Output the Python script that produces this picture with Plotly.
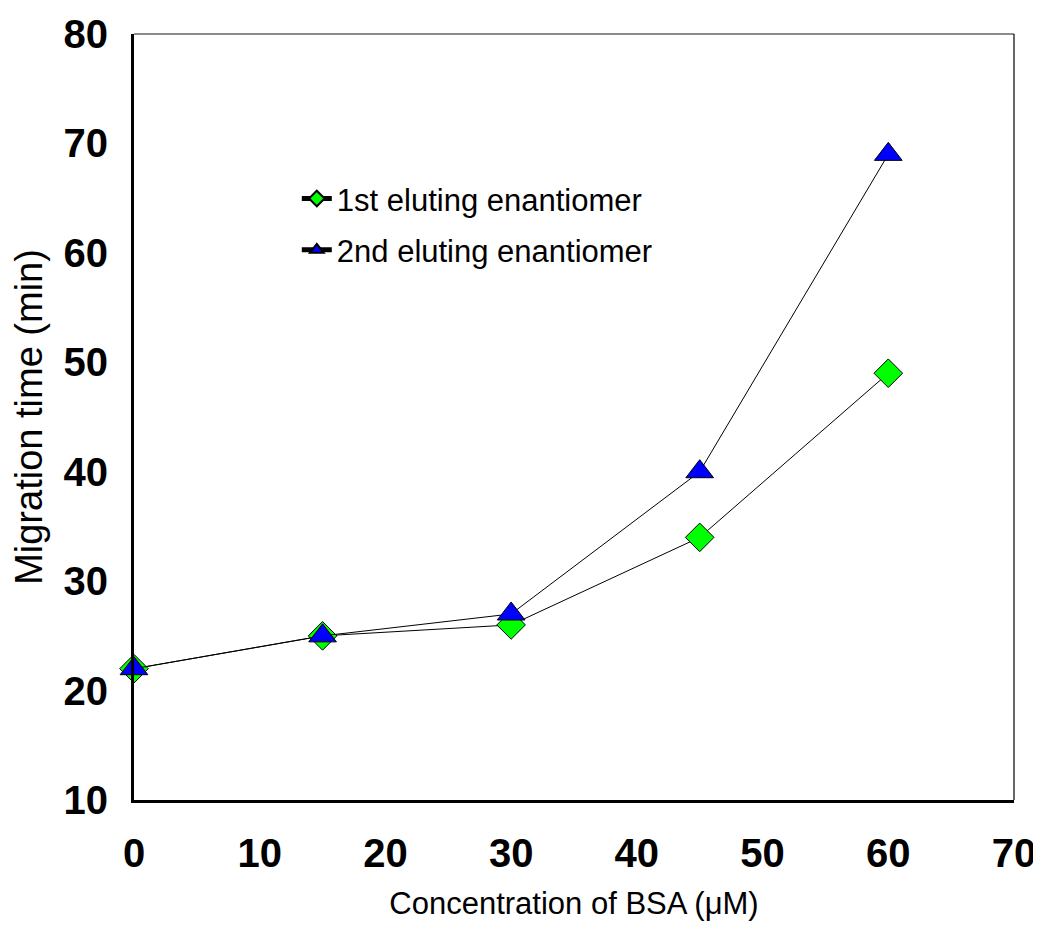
import plotly.graph_objects as go

conc = [0, 15, 30, 45, 60]
first_eluting = [22, 25, 26, 34, 49]
second_eluting = [22, 25, 27, 40, 69]

x_ticks = [0, 10, 20, 30, 40, 50, 60, 70]
y_ticks = [10, 20, 30, 40, 50, 60, 70, 80]

fig = go.Figure()
fig.add_trace(go.Scatter(
    x=conc, y=first_eluting, mode="lines+markers", name="1st eluting enantiomer",
    legendgroup="a",
    line=dict(color="black", width=1),
    marker=dict(symbol="diamond", size=22, color="#00FF00", line=dict(color="black", width=1)),
    cliponaxis=False,
))
fig.add_trace(go.Scatter(
    x=conc, y=second_eluting, mode="lines+markers", name="2nd eluting enantiomer",
    legendgroup="b",
    line=dict(color="black", width=1),
    marker=dict(symbol="triangle-up", size=24, color="#0000FF", line=dict(color="black", width=1)),
    cliponaxis=False,
))

fig.update_layout(
    width=1033, height=943,
    margin=dict(l=126, r=27, t=26, b=151),
    plot_bgcolor="white", paper_bgcolor="white",
    font=dict(family="Liberation Sans, Arial, sans-serif", color="black"),
    showlegend=True,
    legend=dict(x=0.185, y=0.82, xanchor="left", yanchor="top",
                font=dict(size=31, color="black"), bgcolor="rgba(0,0,0,0)",
                itemsizing="constant", tracegroupgap=8, itemwidth=30),
    xaxis=dict(range=[0, 70], tickvals=x_ticks, showgrid=False, zeroline=False,
               showline=True, linecolor="black", linewidth=3, ticks="",
               automargin=False, ticklabeloverflow="allow",
               tickfont=dict(size=40, family="Liberation Sans, Arial, sans-serif", weight="bold"),
               ticklabelstandoff=16,
               title=dict(text="Concentration of BSA (μM)", font=dict(size=31), standoff=19)),
    yaxis=dict(range=[10, 80], tickvals=y_ticks, showgrid=False, zeroline=False,
               showline=True, linecolor="black", linewidth=3, ticks="",
               automargin=False, ticklabeloverflow="allow",
               tickfont=dict(size=40, family="Liberation Sans, Arial, sans-serif", weight="bold"),
               ticklabelstandoff=15,
               title=dict(text="Migration time (min)", font=dict(size=38), standoff=31)),
    shapes=[
        dict(type="line", xref="paper", yref="paper", x0=0, x1=1, y0=1, y1=1,
             line=dict(color="#666666", width=1.5)),
        dict(type="line", xref="paper", yref="paper", x0=1, x1=1, y0=0, y1=1,
             line=dict(color="black", width=1.2)),
    ],
)

fig.write_html("out.html")
